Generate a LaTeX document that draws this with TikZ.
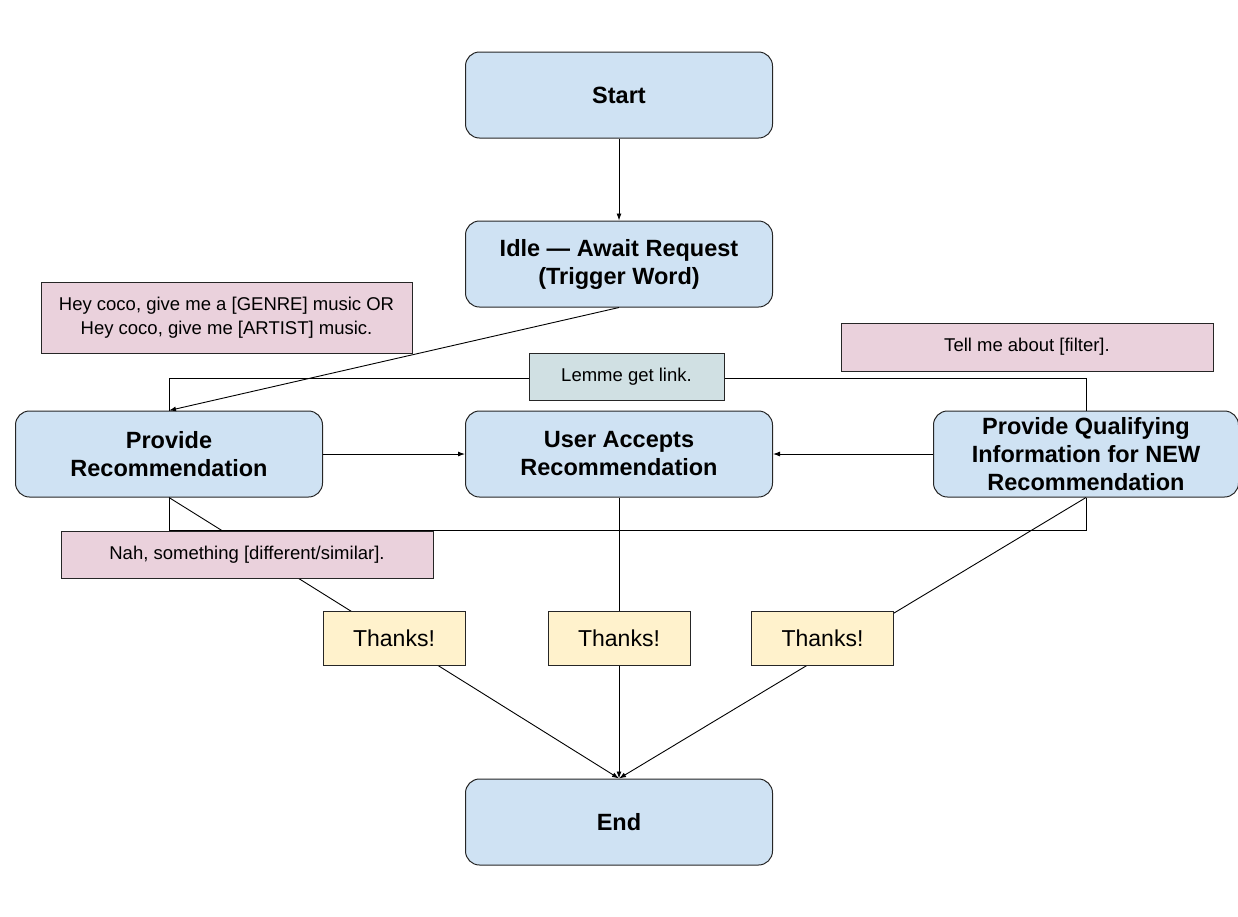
\documentclass[tikz,border=0pt]{standalone}
\usepackage{fontspec}
\setmainfont{Liberation Sans}
\usetikzlibrary{arrows.meta,positioning}
\definecolor{stateblue}{HTML}{CFE2F3}
\definecolor{saypink}{HTML}{EAD1DC}
\definecolor{saygrey}{HTML}{D0E0E3}
\definecolor{thxyellow}{HTML}{FFF2CC}

\begin{document}
\begin{tikzpicture}[x=1pt,y=-1pt,
  state/.style={draw=black!85,fill=stateblue,rounded corners=14pt,line width=1pt,
    minimum width=307pt,minimum height=86pt,align=center,
    font=\fontsize{23.5}{28}\selectfont\bfseries},
  say/.style={draw=black!85,fill=saypink,line width=1pt,minimum width=372pt,
    minimum height=47pt,align=center,font=\fontsize{18.5}{23.5}\selectfont},
  thx/.style={draw=black!85,fill=thxyellow,line width=1pt,minimum width=142pt,
    minimum height=54pt,font=\fontsize{23}{27}\selectfont},
  link/.style={line width=0.9pt},
  flow/.style={link,-{Latex[length=7pt,width=5pt]}},
  node distance=82pt and 142pt]
  \useasboundingbox (0,0) rectangle (1238,916);
  % states
  \node[state] (start) at (619,95) {Start};
  \node[state] (idle) [below=of start] {Idle — Await Request\\(Trigger Word)};
  \node[state] (accept) [below=103pt of idle] {User Accepts\\Recommendation};
  \node[state] (provide) [left=of accept] {Provide\\Recommendation};
  \node[state,minimum width=305pt] (qualify) [right=160pt of accept] {Provide Qualifying\\Information for NEW\\Recommendation};
  \node[state] (done) [below=281pt of accept] {End};
  % connectors
  \draw[flow] (start) -- (idle);
  \draw[flow] (idle.south) -- (provide.north);
  \draw[flow] (provide) -- (accept);
  \draw[flow] (qualify) -- (accept);
  \draw[link] (qualify.north) -- ++(0,-32) -| (provide.north);
  \draw[link] (provide.south) -- ++(0,33) -| (qualify.south);
  \draw[flow] (provide.south) -- node[thx]{Thanks!} (done.north);
  \draw[flow] (accept.south) -- node[thx]{Thanks!} (done.north);
  \draw[flow] (qualify.south) -- node[thx,xshift=-30pt]{Thanks!} (done.north);
  % what the user says
  \node[say,minimum width=371pt,minimum height=71pt] (heycoco) at (226.5,317.5)
    {Hey coco, give me a [GENRE] music OR\\Hey coco, give me [ARTIST] music.};
  \node[say,minimum height=48pt] (tellme) at (1027,347) {Tell me about [filter].};
  \node[say,fill=saygrey,minimum width=195pt] (lemme) at (626.5,377) {Lemme get link.};
  \node[say] (nah) at (247,555) {Nah, something [different/similar].};
\end{tikzpicture}
\end{document}
